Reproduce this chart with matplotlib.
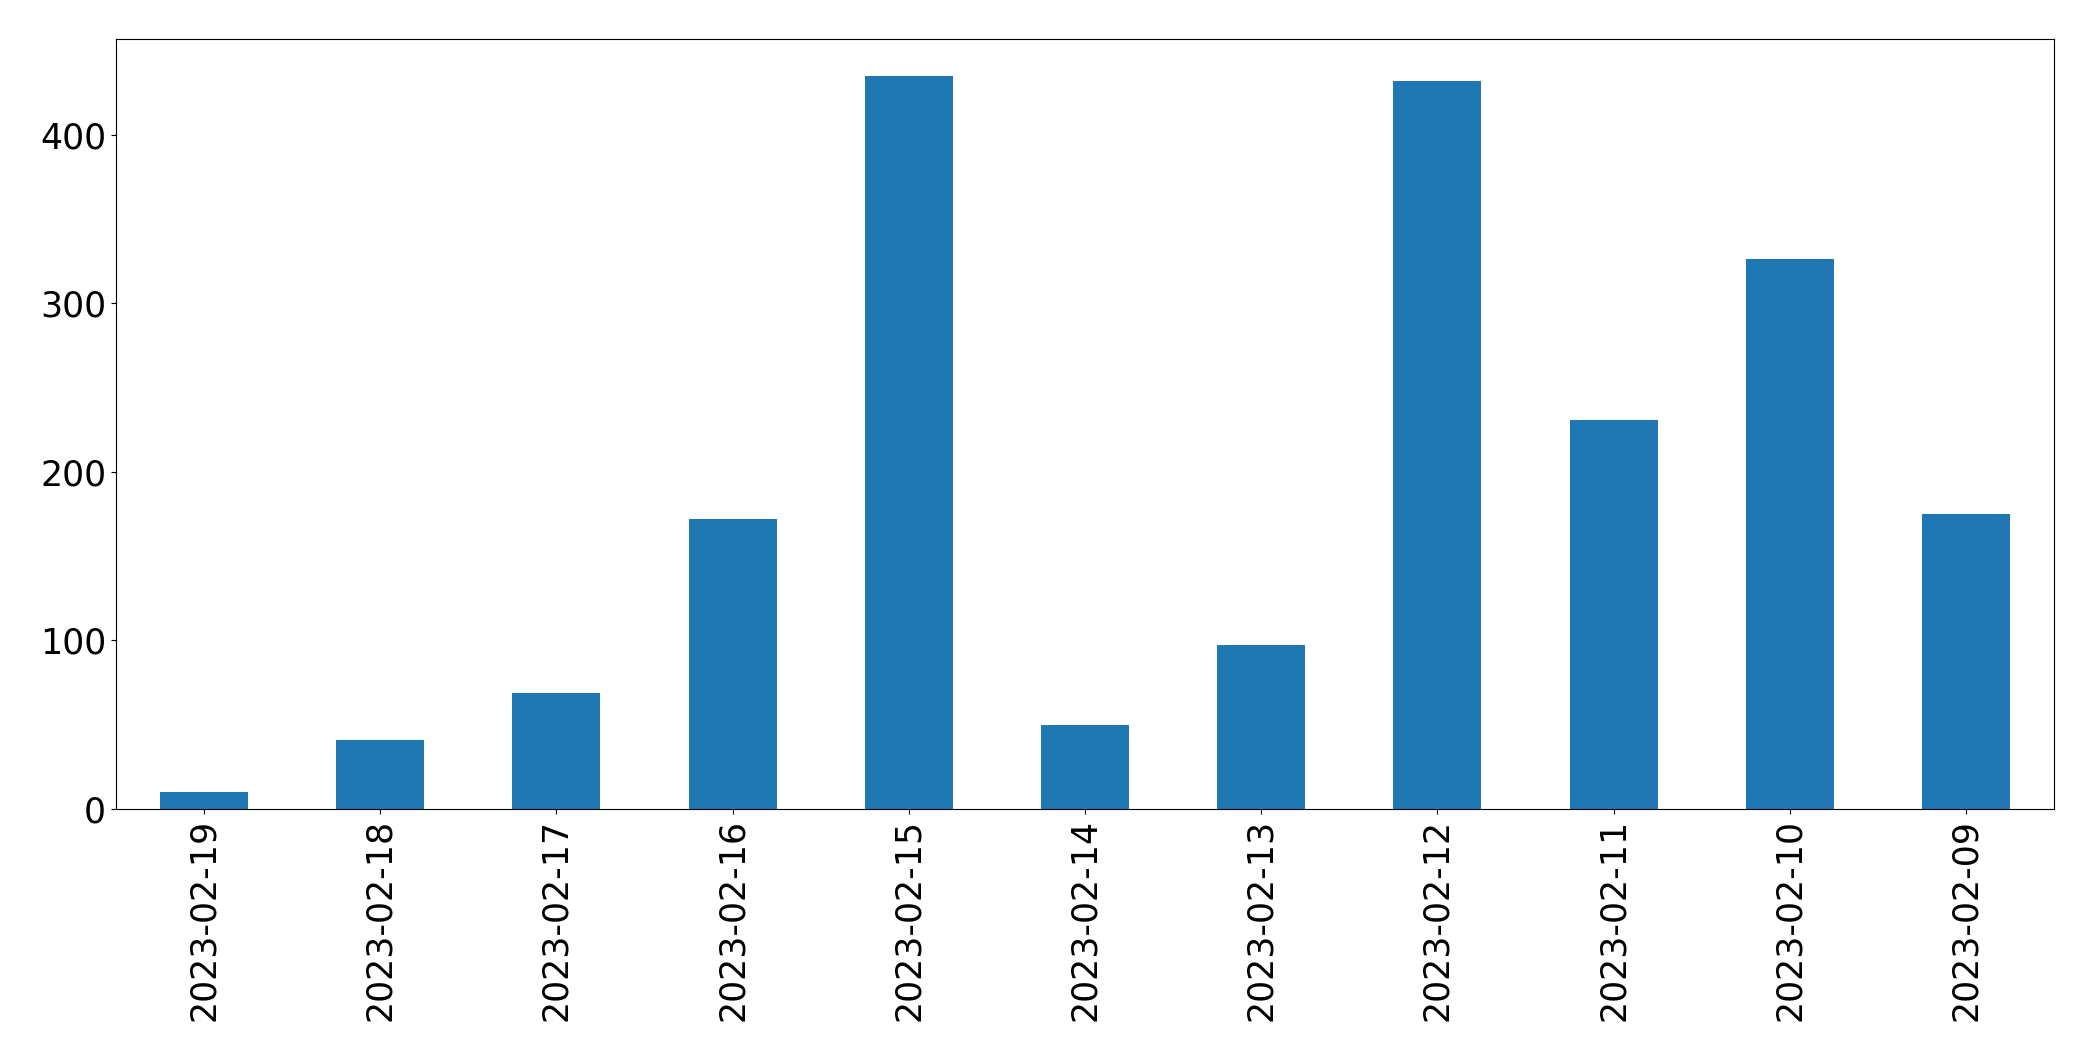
import matplotlib
matplotlib.use("Agg")
import matplotlib.pyplot as plt

# daily counts, newest first (as in the source)
dates = ["2023-02-19", "2023-02-18", "2023-02-17", "2023-02-16", "2023-02-15",
         "2023-02-14", "2023-02-13", "2023-02-12", "2023-02-11", "2023-02-10",
         "2023-02-09"]
counts = [10, 41, 69, 172, 435, 50, 97, 432, 231, 326, 175]

fig = plt.figure(figsize=(20.93, 10.61), dpi=100)
ax = fig.add_subplot(111)

xs = list(range(len(dates)))
ax.bar(xs, counts, width=0.5, color="#1f77b4")
ax.set_xlim(-0.5, len(dates) - 0.5)

ax.set_xticks(xs)
ax.set_xticklabels(dates, rotation=90)
ax.tick_params(axis="both", labelsize=25)

plt.subplots_adjust(left=0.0554, right=0.9814, top=0.9632, bottom=0.2375)
plt.savefig("out.png", dpi=100)
plt.close()
